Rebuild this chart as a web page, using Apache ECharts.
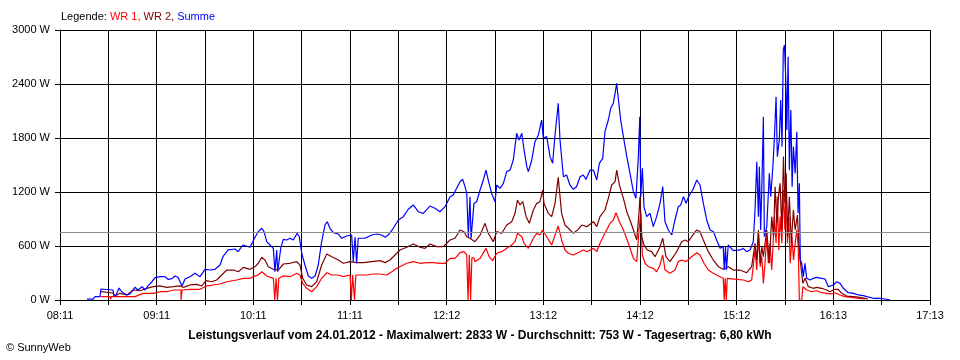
<!DOCTYPE html>
<html>
<head>
<meta charset="utf-8">
<script src="https://cdn.jsdelivr.net/npm/echarts@6/dist/echarts.min.js"></script>
<style>
html,body{margin:0;padding:0;background:#fff;}
#chart{width:960px;height:360px;}
</style>
</head>
<body>
<div id="chart"></div>
<script>
// time axis: minutes after 08:11, 18 grid steps to 17:13
const axisSpanMin = 542;
const axisSteps = 18;
const timeLabels = ['08:11','09:11','10:11','11:11','12:12','13:12','14:12','15:12','16:13','17:13'];
const yTicks = [0, 600, 1200, 1800, 2400, 3000];
const averageW = 753;
const legendNames = ['WR 1', 'WR 2', 'Summe'];
const captionText = 'Leistungsverlauf vom 24.01.2012 - Maximalwert: 2833 W - Durchschnitt: 753 W - Tagesertrag: 6,80 kWh';

// [minutes after 08:11, watts]
const wr1Data = [
[25.4,37],[31.2,37],[31.6,8],[32.0,37],[46.7,37],[51.9,74],[58.1,74],[62.3,92],[66.5,92],[70.6,111],
[75.4,111],[75.4,0],[76.0,0],[76.0,111],[81.0,119],[87.2,119],[91.4,156],[95.5,167],[99.7,178],[103.9,203],
[110.1,222],[114.2,241],[118.4,241],[120.4,259],[123.5,278],[125.7,314],[128.8,267],[132.9,241],
[133.8,241],[133.8,0],[134.6,0],[134.6,241],[135.5,241],[135.5,0],[136.3,0],[136.3,241],
[139.1,267],[143.3,259],[147.5,297],[149.5,278],[151.2,185],[153.7,130],[156.8,92],[159.9,148],[163.0,241],[166.2,303],
[169.3,278],[173.4,278],[176.5,259],[180.7,278],
[181.5,278],[181.5,0],[182.3,0],[182.3,278],[183.5,278],[183.5,0],[184.3,0],[184.3,278],
[186.9,278],[191.0,278],[195.2,289],[199.4,289],[203.5,278],[206.7,314],[209.8,352],[213.9,389],[216.0,408],[220.1,426],
[224.3,408],[228.5,415],[232.6,415],[236.7,408],[239.9,408],[243.0,463],[246.1,463],[249.2,526],[251.7,537],[253.4,500],
[254.2,500],[254.2,0],[255.0,0],[255.0,500],[255.8,500],[255.8,0],[256.6,0],[256.6,467],
[257.9,467],[258.5,426],[261.7,463],[265.4,574],[267.4,481],[269.5,437],[272.1,519],[275.2,537],[278.3,574],[281.4,611],
[283.5,648],[285.0,741],[287.7,703],[289.1,630],[291.8,574],[294.9,686],[297.0,741],[299.0,722],[300.7,778],[303.2,703],
[306.3,611],[308.4,722],[310.4,822],[312.5,667],[314.6,556],[316.7,519],[319.8,500],[324.0,537],[326.0,556],[328.2,537],
[332.3,574],[334.4,537],[336.4,630],[339.5,741],[342.7,852],[344.7,889],[346.4,970],[348.5,870],[351.0,778],[354.1,630],
[357.2,463],[359.3,426],[360.7,778],[361.8,963],[362.8,500],[364.5,408],[366.6,370],[369.6,352],[371.7,314],[373.8,389],
[375.5,500],[376.9,333],[380.0,297],[383.1,333],[385.2,426],[387.3,444],[390.0,426],[393.5,481],[396.7,526],[398.7,500],
[401.2,408],[403.9,333],[407.0,297],[410.2,267],[413.2,241],
[413.8,241],[413.8,0],[414.4,0],[414.4,241],[415.1,241],[415.1,0],[415.7,0],[415.7,241],
[416.3,241],[421.5,230],[425.7,222],[428.8,203],[430.9,222],[433.0,556],[434.1,333],[435.1,741],[436.2,370],[437.2,481],
[438.2,185],[439.2,408],[440.3,703],[441.3,408],[442.3,630],[443.4,333],[444.5,333],[445.1,926],[446.1,630],[446.9,1148],
[447.8,556],[448.6,926],[449.7,630],[450.7,1222],[451.6,778],[452.4,1333],[453.2,630],[454.1,926],[454.9,408],[456.0,703],
[457.0,444],[458.0,630],[459.0,778],[459.9,593],[460.6,0],[462.1,0],[462.8,148],[465.2,111],[468.3,92],[471.4,103],
[474.5,81],[477.6,74],[480.7,67],[482.8,81],[485.9,56],[489.0,37],[493.2,30],[497.4,19],[501.5,11]
];

const wr2Data = [
[25.4,92],[33.0,78],[34.3,44],[37.4,74],[41.6,56],[45.7,111],[49.8,103],[54.0,130],[58.1,148],[62.3,156],
[66.5,141],[70.6,148],[74.8,156],[76.8,141],[81.0,167],[85.2,174],[88.3,156],[91.0,215],[94.5,203],[97.6,222],
[100.7,278],[103.9,333],[108.0,333],[111.1,314],[114.2,363],[118.4,341],[121.5,370],[123.5,408],[125.7,474],[127.7,444],
[129.8,370],[132.9,341],[136.0,333],[139.1,400],[143.3,408],[147.5,426],[149.5,389],[151.2,241],[153.7,167],[156.8,148],
[159.9,203],[163.0,389],[166.2,511],[169.3,481],[173.4,444],[176.5,408],[180.7,426],[184.8,415],[189.0,415],[194.2,426],
[199.4,437],[202.5,415],[205.6,444],[208.7,500],[211.8,556],[216.0,586],[220.1,622],[224.3,586],[227.4,574],[230.5,622],
[234.7,593],[238.8,593],[243.0,667],[246.1,686],[249.2,778],[251.7,759],[253.4,703],[255.4,686],[258.5,648],[261.7,722],
[264.8,852],[266.8,741],[269.9,648],[272.1,759],[275.2,741],[278.3,833],[281.4,870],[283.5,963],[285.0,1111],[286.6,1056],
[288.3,1092],[290.4,926],[292.4,852],[294.9,1000],[297.0,1074],[299.0,1092],[300.7,1222],[301.5,1074],[304.2,963],[306.3,926],
[308.4,1074],[310.4,1363],[312.5,963],[314.6,833],[316.7,797],[319.8,741],[322.9,785],[325.0,833],[328.2,815],[332.3,870],
[334.4,815],[336.4,926],[339.5,1000],[341.6,1130],[343.7,1278],[345.8,1315],[346.8,1444],[348.5,1278],[351.0,1130],[353.1,981],
[355.1,889],[357.6,759],[359.3,667],[360.7,963],[361.3,1148],[362.4,703],[363.8,611],[365.9,556],[368.6,537],[370.7,481],
[373.4,574],[375.5,686],[377.5,481],[380.0,426],[382.1,481],[384.2,537],[387.3,648],[389.4,667],[391.4,648],[393.5,703],
[396.7,778],[398.7,759],[400.8,667],[403.9,537],[407.0,444],[410.2,370],[413.2,341],[416.3,370],[419.5,333],[423.6,333],
[427.8,303],[430.9,370],[433.0,630],[434.1,444],[435.1,778],[436.2,408],[437.2,593],[438.2,481],[440.3,778],[441.9,408],
[443.4,926],[444.5,703],[445.5,1259],[446.6,852],[447.6,1148],[448.6,1296],[449.7,778],[450.7,1593],[451.6,1074],[452.4,1407],
[453.2,703],[454.4,1148],[455.6,630],[456.9,1000],[458.0,778],[459.4,944],[460.3,630],[461.1,444],[462.8,185],[464.2,241],
[466.2,148],[469.3,130],[471.4,141],[474.5,130],[477.6,111],[479.7,92],[482.8,119],[484.9,119],[487.0,74],[490.1,44],
[494.3,37],[498.3,30],[501.5,19],[503.4,8]
];

const summeData = [
[16.8,10],[20.6,10],[21.8,37],[24.9,37],[25.5,122],[33.0,111],[33.6,44],[34.9,56],[36.8,133],[38.6,89],
[41.7,56],[43.6,67],[46.7,141],[48.6,111],[51.1,148],[53.0,111],[54.8,156],[57.3,203],[59.2,248],[62.3,259],
[65.4,259],[67.3,230],[69.8,237],[71.6,267],[73.5,252],[76.0,156],[77.9,233],[81.0,259],[84.1,297],[87.2,259],
[90.3,341],[93.5,333],[96.6,341],[99.7,389],[101.5,481],[104.7,556],[109.0,567],[110.9,537],[114.0,611],[118.4,586],
[119.6,567],[121.5,697],[123.5,759],[125.7,797],[127.1,759],[128.8,648],[130.8,611],[132.9,574],[133.9,314],[135.0,556],
[135.6,314],[136.4,303],[137.5,574],[139.1,674],[141.2,667],[143.3,686],[145.3,667],[147.8,741],[149.1,703],[150.6,519],
[152.6,389],[154.7,267],[156.8,241],[158.9,267],[160.9,389],[163.0,648],[165.1,833],[166.5,870],[168.2,797],[170.3,748],
[173.4,733],[175.5,686],[178.6,711],[181.7,722],[182.7,426],[183.8,697],[184.8,408],[185.8,686],[186.9,674],[190.0,686],
[194.2,722],[197.3,733],[200.4,722],[202.5,697],[204.5,722],[207.6,797],[210.8,889],[213.9,926],[217.0,1008],
[220.1,1056],[223.2,981],[226.3,963],[230.5,1044],[233.6,1019],[236.7,981],[239.9,1037],[243.0,1148],[245.0,1167],[247.1,1241],
[249.2,1314],[250.9,1341],[252.3,1259],[253.4,1185],[254.4,703],[255.4,1148],[256.1,686],[257.1,686],[257.9,1074],[259.6,1092],
[261.7,1222],[263.7,1333],[265.4,1444],[266.8,1333],[268.9,1185],[271.0,1092],[272.1,1278],[274.1,1241],[276.2,1296],[278.3,1426],
[280.4,1444],[282.4,1556],[284.5,1852],[286.0,1778],[287.7,1852],[289.1,1667],[290.8,1481],[291.8,1426],[293.9,1556],[295.9,1759],
[298.0,1833],[300.1,2000],[301.1,1797],[303.2,1815],[305.3,1593],[306.9,1519],[308.4,1833],[310.4,2185],[311.5,1778],
[313.6,1370],[315.6,1389],[317.7,1278],[319.8,1230],[321.8,1259],[324.0,1370],[326.0,1389],[327.7,1341],[330.2,1444],[332.3,1444],
[334.4,1333],[336.0,1519],[338.1,1574],[339.5,1870],[341.6,2000],[343.1,2130],[344.7,2185],[345.8,2296],[346.8,2407],[347.8,2241],
[349.3,2000],[351.0,1815],[353.1,1593],[355.1,1407],[357.2,1204],[358.8,1130],[360.3,1593],[361.2,2037],[361.8,1148],[362.8,1463],
[363.8,1037],[365.5,926],[367.6,963],[369.6,815],[371.7,926],[373.8,1074],[375.5,1259],[376.9,870],[379.0,778],[381.1,722],
[383.1,889],[385.2,1037],[386.7,1056],[388.4,1148],[390.0,1074],[392.1,1167],[394.2,1222],[396.7,1333],[398.7,1278],[400.8,1074],
[402.9,889],[405.0,778],[407.1,759],[409.1,667],[411.2,574],[413.2,593],[413.8,333],[414.6,589],[415.2,333],[416.3,611],
[419.5,548],[423.6,556],[425.7,574],[427.8,537],[429.9,556],[431.9,648],[433.0,1000],[434.1,1537],[435.1,926],[435.7,1481],
[436.5,778],[437.2,1222],[438.2,2037],[438.8,703],[440.3,815],[441.9,1407],[442.8,1148],[444.1,1481],[445.1,1815],[446.1,2259],
[446.9,1593],[448.1,1778],[449.0,2222],[449.8,1704],[450.6,2778],[451.3,2833],[452.1,2481],[452.8,1889],[453.6,2704],[454.4,1444],
[455.3,2111],[456.1,1259],[456.9,1704],[458.0,1407],[459.0,1870],[459.8,963],[460.6,1296],[461.2,444],[462.1,408],[463.1,259],
[464.1,408],[465.2,241],[467.3,222],[469.3,241],[471.4,252],[474.5,241],[476.6,233],[478.7,148],[481.8,167],[483.9,203],
[486.0,185],[488.0,130],[491.1,81],[494.3,74],[497.4,56],[500.5,48],[502.6,37],[506.7,19],[510.9,19],[515.1,8],[517.1,0]
];

const stepMin = axisSpanMin / axisSteps;
const FONT = '"Liberation Sans", Arial, sans-serif';

const chart = echarts.init(document.getElementById('chart'), null, {renderer: 'canvas'});
chart.setOption({
  animation: false,
  backgroundColor: '#ffffff',
  title: [
    {
      text: '{k|Legende: }{a|' + legendNames[0] + ', }{b|' + legendNames[1] + ', }{c|' + legendNames[2] + '}',
      left: 61, top: 11, padding: 0,
      textStyle: {
        fontFamily: FONT, fontSize: 11, fontWeight: 'normal',
        rich: {
          k: {color: '#000000', fontFamily: FONT, fontSize: 11},
          a: {color: '#ff0000', fontFamily: FONT, fontSize: 11},
          b: {color: '#800000', fontFamily: FONT, fontSize: 11},
          c: {color: '#0000ff', fontFamily: FONT, fontSize: 11}
        }
      }
    },
    {
      text: captionText, left: 'center', top: 330, padding: 0,
      textStyle: {fontFamily: FONT, fontSize: 12, fontWeight: 'bold', color: '#000000'}
    },
    {
      text: '© SunnyWeb', left: 6, top: 342, padding: 0,
      textStyle: {fontFamily: FONT, fontSize: 11, fontWeight: 'normal', color: '#000000'}
    }
  ],
  grid: {left: 60, right: 30, top: 30, bottom: 60, containLabel: false},
  xAxis: {
    type: 'value', min: 0, max: axisSpanMin, interval: stepMin,
    axisLine: {show: true, lineStyle: {color: '#000000', width: 1}},
    axisTick: {show: true, length: 5, lineStyle: {color: '#000000', width: 1}},
    splitLine: {show: true, lineStyle: {color: '#000000', width: 1}},
    axisLabel: {
      color: '#000000', fontFamily: FONT, fontSize: 11, margin: 10,
      formatter: function (v) {
        const i = Math.round(v / stepMin);
        return i % 2 === 0 ? (timeLabels[i / 2] || '') : '';
      }
    }
  },
  yAxis: {
    type: 'value', min: yTicks[0], max: yTicks[yTicks.length - 1], interval: yTicks[1] - yTicks[0],
    axisLine: {show: true, lineStyle: {color: '#000000', width: 1}},
    axisTick: {show: true, length: 5, lineStyle: {color: '#000000', width: 1}},
    splitLine: {show: true, lineStyle: {color: '#000000', width: 1}},
    axisLabel: {
      color: '#000000', fontFamily: FONT, fontSize: 11, margin: 10,
      formatter: function (v) { return String(Math.round(v)) + ' W'; }
    }
  },
  series: [
    {
      name: legendNames[0], type: 'line', data: wr1Data, showSymbol: false, symbol: 'none',
      lineStyle: {color: '#ff0000', width: 1.2}, itemStyle: {color: '#ff0000'},
      markLine: {
        silent: true, symbol: 'none', label: {show: false},
        lineStyle: {color: '#8c8c8c', width: 1, type: 'solid'},
        data: [{yAxis: averageW}]
      }
    },
    {
      name: legendNames[1], type: 'line', data: wr2Data, showSymbol: false, symbol: 'none',
      lineStyle: {color: '#800000', width: 1.2}, itemStyle: {color: '#800000'}
    },
    {
      name: legendNames[2], type: 'line', data: summeData, showSymbol: false, symbol: 'none',
      lineStyle: {color: '#0000ff', width: 1.2}, itemStyle: {color: '#0000ff'}
    }
  ]
});
</script>
</body>
</html>
